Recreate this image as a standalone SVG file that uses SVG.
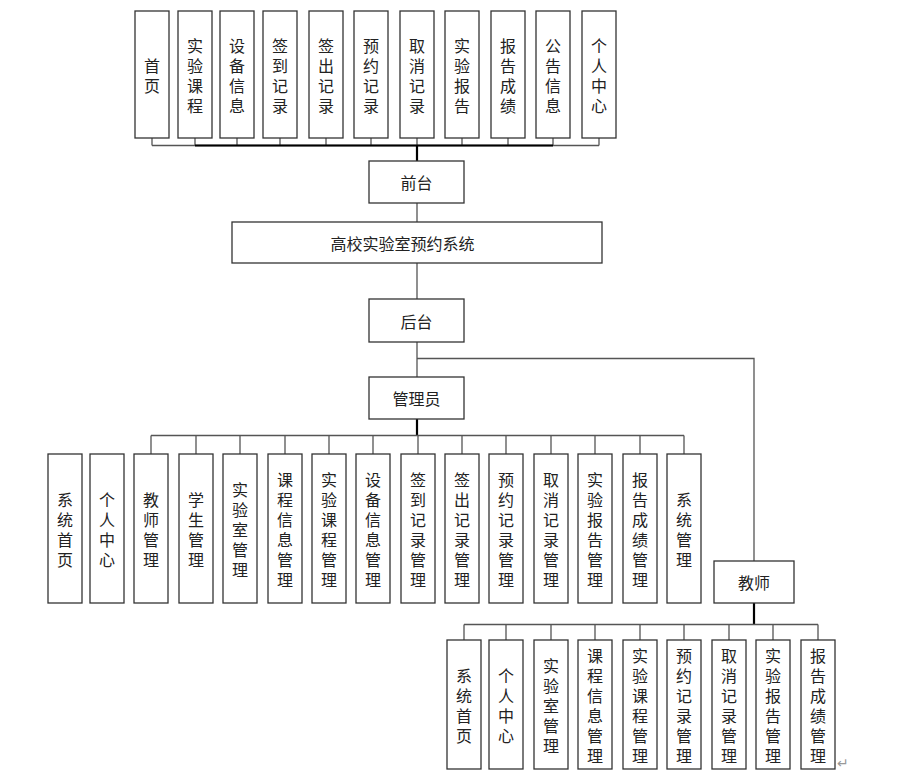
<svg xmlns="http://www.w3.org/2000/svg" width="905" height="773" viewBox="0 0 905 773">
<style>
.box{fill:#fff;stroke:#333;stroke-width:1.3}
.t{font-family:"Noto Sans CJK SC","Liberation Sans",sans-serif;font-size:16px;fill:#222;text-anchor:middle;dominant-baseline:central}
.ln{fill:none;stroke:#555;stroke-width:1.3}
.th{fill:none;stroke:#000;stroke-width:2.2}
.mk{font-family:"DejaVu Sans",sans-serif;font-size:14px;fill:#999}
</style>
<rect width="905" height="773" fill="#fff"/>
<g id="connectors">
<path class="ln" d="M152,138V145.5M195,138V145.5M237,138V145.5M280,138V145.5M326,138V145.5M371,138V145.5M417,138V145.5M462,138V145.5M508,138V145.5M553,138V145.5M599,138V145.5M152,145.5H599"/>
<path class="th" d="M195,145.5H553M417,145V161"/>
<path class="ln" d="M417,203V222M417,263V299M417,342V377M417,358.5H754V561"/>
<path class="th" d="M417,419V435.5"/>
<path class="ln" d="M151,435.5H684M151,435.5V454M196,435.5V454M240,435.5V454M285,435.5V454M329,435.5V454M373,435.5V454M418,435.5V454M462,435.5V454M506,435.5V454M551,435.5V454M595,435.5V454M640,435.5V454M684,435.5V454"/>
<path class="th" d="M754,603V624.5"/>
<path class="ln" d="M464,624.5H818M464,624.5V640M506,624.5V640M551,624.5V640M595,624.5V640M640,624.5V640M684,624.5V640M729,624.5V640M773,624.5V640M818,624.5V640"/>
</g>
<g id="top-nodes">
<g id="n-shouye"><rect class="box" x="135" y="11" width="34" height="127"/><text class="t"><tspan x="152" y="64.5">首</tspan><tspan x="152" y="84.5">页</tspan></text></g>
<g id="n-sykc"><rect class="box" x="178" y="11" width="34" height="127"/><text class="t"><tspan x="195" y="44.5">实</tspan><tspan x="195" y="64.5">验</tspan><tspan x="195" y="84.5">课</tspan><tspan x="195" y="104.5">程</tspan></text></g>
<g id="n-sbxx"><rect class="box" x="220" y="11" width="34" height="127"/><text class="t"><tspan x="237" y="44.5">设</tspan><tspan x="237" y="64.5">备</tspan><tspan x="237" y="84.5">信</tspan><tspan x="237" y="104.5">息</tspan></text></g>
<g id="n-qdjl"><rect class="box" x="263" y="11" width="34" height="127"/><text class="t"><tspan x="280" y="44.5">签</tspan><tspan x="280" y="64.5">到</tspan><tspan x="280" y="84.5">记</tspan><tspan x="280" y="104.5">录</tspan></text></g>
<g id="n-qcjl"><rect class="box" x="309" y="11" width="34" height="127"/><text class="t"><tspan x="326" y="44.5">签</tspan><tspan x="326" y="64.5">出</tspan><tspan x="326" y="84.5">记</tspan><tspan x="326" y="104.5">录</tspan></text></g>
<g id="n-yyjl"><rect class="box" x="354" y="11" width="34" height="127"/><text class="t"><tspan x="371" y="44.5">预</tspan><tspan x="371" y="64.5">约</tspan><tspan x="371" y="84.5">记</tspan><tspan x="371" y="104.5">录</tspan></text></g>
<g id="n-qxjl"><rect class="box" x="400" y="11" width="34" height="127"/><text class="t"><tspan x="417" y="44.5">取</tspan><tspan x="417" y="64.5">消</tspan><tspan x="417" y="84.5">记</tspan><tspan x="417" y="104.5">录</tspan></text></g>
<g id="n-sybg"><rect class="box" x="445" y="11" width="34" height="127"/><text class="t"><tspan x="462" y="44.5">实</tspan><tspan x="462" y="64.5">验</tspan><tspan x="462" y="84.5">报</tspan><tspan x="462" y="104.5">告</tspan></text></g>
<g id="n-bgcj"><rect class="box" x="491" y="11" width="34" height="127"/><text class="t"><tspan x="508" y="44.5">报</tspan><tspan x="508" y="64.5">告</tspan><tspan x="508" y="84.5">成</tspan><tspan x="508" y="104.5">绩</tspan></text></g>
<g id="n-ggxx"><rect class="box" x="536" y="11" width="34" height="127"/><text class="t"><tspan x="553" y="44.5">公</tspan><tspan x="553" y="64.5">告</tspan><tspan x="553" y="84.5">信</tspan><tspan x="553" y="104.5">息</tspan></text></g>
<g id="n-grzx"><rect class="box" x="582" y="11" width="34" height="127"/><text class="t"><tspan x="599" y="44.5">个</tspan><tspan x="599" y="64.5">人</tspan><tspan x="599" y="84.5">中</tspan><tspan x="599" y="104.5">心</tspan></text></g>
</g>
<g id="n-qiantai"><rect class="box" x="369" y="161" width="95" height="42"/><text class="t" x="416.5" y="182">前台</text></g>
<g id="n-system"><rect class="box" x="232" y="222" width="370" height="41"/><text class="t" x="402.5" y="243">高校实验室预约系统</text></g>
<g id="n-houtai"><rect class="box" x="369" y="299" width="95" height="43"/><text class="t" x="416.5" y="320.5">后台</text></g>
<g id="n-admin"><rect class="box" x="369" y="377" width="95" height="42"/><text class="t" x="416.5" y="398">管理员</text></g>
<g id="admin-nodes">
<g id="a1"><rect class="box" x="48" y="454" width="34" height="149"/><text class="t"><tspan x="65" y="498.5">系</tspan><tspan x="65" y="518.5">统</tspan><tspan x="65" y="538.5">首</tspan><tspan x="65" y="558.5">页</tspan></text></g>
<g id="a2"><rect class="box" x="90" y="454" width="34" height="149"/><text class="t"><tspan x="107" y="498.5">个</tspan><tspan x="107" y="518.5">人</tspan><tspan x="107" y="538.5">中</tspan><tspan x="107" y="558.5">心</tspan></text></g>
<g id="a3"><rect class="box" x="134" y="454" width="34" height="149"/><text class="t"><tspan x="151" y="498.5">教</tspan><tspan x="151" y="518.5">师</tspan><tspan x="151" y="538.5">管</tspan><tspan x="151" y="558.5">理</tspan></text></g>
<g id="a4"><rect class="box" x="179" y="454" width="34" height="149"/><text class="t"><tspan x="196" y="498.5">学</tspan><tspan x="196" y="518.5">生</tspan><tspan x="196" y="538.5">管</tspan><tspan x="196" y="558.5">理</tspan></text></g>
<g id="a5"><rect class="box" x="223" y="454" width="34" height="149"/><text class="t"><tspan x="240" y="488.5">实</tspan><tspan x="240" y="508.5">验</tspan><tspan x="240" y="528.5">室</tspan><tspan x="240" y="548.5">管</tspan><tspan x="240" y="568.5">理</tspan></text></g>
<g id="a6"><rect class="box" x="268" y="454" width="34" height="149"/><text class="t"><tspan x="285" y="478.5">课</tspan><tspan x="285" y="498.5">程</tspan><tspan x="285" y="518.5">信</tspan><tspan x="285" y="538.5">息</tspan><tspan x="285" y="558.5">管</tspan><tspan x="285" y="578.5">理</tspan></text></g>
<g id="a7"><rect class="box" x="312" y="454" width="34" height="149"/><text class="t"><tspan x="329" y="478.5">实</tspan><tspan x="329" y="498.5">验</tspan><tspan x="329" y="518.5">课</tspan><tspan x="329" y="538.5">程</tspan><tspan x="329" y="558.5">管</tspan><tspan x="329" y="578.5">理</tspan></text></g>
<g id="a8"><rect class="box" x="356" y="454" width="34" height="149"/><text class="t"><tspan x="373" y="478.5">设</tspan><tspan x="373" y="498.5">备</tspan><tspan x="373" y="518.5">信</tspan><tspan x="373" y="538.5">息</tspan><tspan x="373" y="558.5">管</tspan><tspan x="373" y="578.5">理</tspan></text></g>
<g id="a9"><rect class="box" x="401" y="454" width="34" height="149"/><text class="t"><tspan x="418" y="478.5">签</tspan><tspan x="418" y="498.5">到</tspan><tspan x="418" y="518.5">记</tspan><tspan x="418" y="538.5">录</tspan><tspan x="418" y="558.5">管</tspan><tspan x="418" y="578.5">理</tspan></text></g>
<g id="a10"><rect class="box" x="445" y="454" width="34" height="149"/><text class="t"><tspan x="462" y="478.5">签</tspan><tspan x="462" y="498.5">出</tspan><tspan x="462" y="518.5">记</tspan><tspan x="462" y="538.5">录</tspan><tspan x="462" y="558.5">管</tspan><tspan x="462" y="578.5">理</tspan></text></g>
<g id="a11"><rect class="box" x="489" y="454" width="34" height="149"/><text class="t"><tspan x="506" y="478.5">预</tspan><tspan x="506" y="498.5">约</tspan><tspan x="506" y="518.5">记</tspan><tspan x="506" y="538.5">录</tspan><tspan x="506" y="558.5">管</tspan><tspan x="506" y="578.5">理</tspan></text></g>
<g id="a12"><rect class="box" x="534" y="454" width="34" height="149"/><text class="t"><tspan x="551" y="478.5">取</tspan><tspan x="551" y="498.5">消</tspan><tspan x="551" y="518.5">记</tspan><tspan x="551" y="538.5">录</tspan><tspan x="551" y="558.5">管</tspan><tspan x="551" y="578.5">理</tspan></text></g>
<g id="a13"><rect class="box" x="578" y="454" width="34" height="149"/><text class="t"><tspan x="595" y="478.5">实</tspan><tspan x="595" y="498.5">验</tspan><tspan x="595" y="518.5">报</tspan><tspan x="595" y="538.5">告</tspan><tspan x="595" y="558.5">管</tspan><tspan x="595" y="578.5">理</tspan></text></g>
<g id="a14"><rect class="box" x="623" y="454" width="34" height="149"/><text class="t"><tspan x="640" y="478.5">报</tspan><tspan x="640" y="498.5">告</tspan><tspan x="640" y="518.5">成</tspan><tspan x="640" y="538.5">绩</tspan><tspan x="640" y="558.5">管</tspan><tspan x="640" y="578.5">理</tspan></text></g>
<g id="a15"><rect class="box" x="667" y="454" width="34" height="149"/><text class="t"><tspan x="684" y="498.5">系</tspan><tspan x="684" y="518.5">统</tspan><tspan x="684" y="538.5">管</tspan><tspan x="684" y="558.5">理</tspan></text></g>
</g>
<g id="n-teacher"><rect class="box" x="714" y="561" width="80" height="42"/><text class="t" x="754" y="582">教师</text></g>
<g id="teacher-nodes">
<g id="t1"><rect class="box" x="447" y="640" width="34" height="129"/><text class="t"><tspan x="464" y="674.5">系</tspan><tspan x="464" y="694.5">统</tspan><tspan x="464" y="714.5">首</tspan><tspan x="464" y="734.5">页</tspan></text></g>
<g id="t2"><rect class="box" x="489" y="640" width="34" height="129"/><text class="t"><tspan x="506" y="674.5">个</tspan><tspan x="506" y="694.5">人</tspan><tspan x="506" y="714.5">中</tspan><tspan x="506" y="734.5">心</tspan></text></g>
<g id="t3"><rect class="box" x="534" y="640" width="34" height="129"/><text class="t"><tspan x="551" y="664.5">实</tspan><tspan x="551" y="684.5">验</tspan><tspan x="551" y="704.5">室</tspan><tspan x="551" y="724.5">管</tspan><tspan x="551" y="744.5">理</tspan></text></g>
<g id="t4"><rect class="box" x="578" y="640" width="34" height="129"/><text class="t"><tspan x="595" y="654.5">课</tspan><tspan x="595" y="674.5">程</tspan><tspan x="595" y="694.5">信</tspan><tspan x="595" y="714.5">息</tspan><tspan x="595" y="734.5">管</tspan><tspan x="595" y="754.5">理</tspan></text></g>
<g id="t5"><rect class="box" x="623" y="640" width="34" height="129"/><text class="t"><tspan x="640" y="654.5">实</tspan><tspan x="640" y="674.5">验</tspan><tspan x="640" y="694.5">课</tspan><tspan x="640" y="714.5">程</tspan><tspan x="640" y="734.5">管</tspan><tspan x="640" y="754.5">理</tspan></text></g>
<g id="t6"><rect class="box" x="667" y="640" width="34" height="129"/><text class="t"><tspan x="684" y="654.5">预</tspan><tspan x="684" y="674.5">约</tspan><tspan x="684" y="694.5">记</tspan><tspan x="684" y="714.5">录</tspan><tspan x="684" y="734.5">管</tspan><tspan x="684" y="754.5">理</tspan></text></g>
<g id="t7"><rect class="box" x="712" y="640" width="34" height="129"/><text class="t"><tspan x="729" y="654.5">取</tspan><tspan x="729" y="674.5">消</tspan><tspan x="729" y="694.5">记</tspan><tspan x="729" y="714.5">录</tspan><tspan x="729" y="734.5">管</tspan><tspan x="729" y="754.5">理</tspan></text></g>
<g id="t8"><rect class="box" x="756" y="640" width="34" height="129"/><text class="t"><tspan x="773" y="654.5">实</tspan><tspan x="773" y="674.5">验</tspan><tspan x="773" y="694.5">报</tspan><tspan x="773" y="714.5">告</tspan><tspan x="773" y="734.5">管</tspan><tspan x="773" y="754.5">理</tspan></text></g>
<g id="t9"><rect class="box" x="801" y="640" width="34" height="129"/><text class="t"><tspan x="818" y="654.5">报</tspan><tspan x="818" y="674.5">告</tspan><tspan x="818" y="694.5">成</tspan><tspan x="818" y="714.5">绩</tspan><tspan x="818" y="734.5">管</tspan><tspan x="818" y="754.5">理</tspan></text></g>
</g>
<text class="mk" x="837" y="768">↵</text>
</svg>
